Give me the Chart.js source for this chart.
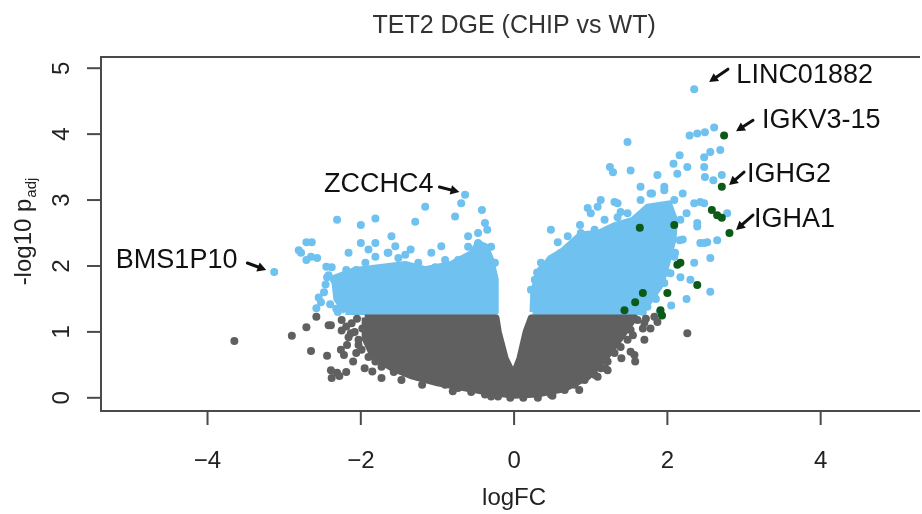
<!DOCTYPE html>
<html>
<head>
<meta charset="utf-8">
<script src="https://cdn.jsdelivr.net/npm/chart.js@4.4.0/dist/chart.umd.min.js"></script>
<style>
  html, body { margin: 0; padding: 0; background: #fff; overflow: hidden; }
</style>
</head>
<body>
<canvas id="volcano" width="922" height="514"></canvas>
<script>
// Ejes
const xTicks = [-4, -2, 0, 2, 4];
const yTicks = [0, 1, 2, 3, 4, 5];

// Zonas densas (contorno de la nube de puntos)
const greyCore = [[-1.95,1.22],[-0.23,1.22],[-0.2,1.0],[-0.11,0.6],[-0.01,0.36],[0.07,0.6],[0.15,1.0],[0.22,1.22],
  [1.58,1.22],[1.4,0.92],[1.18,0.58],[0.96,0.31],[0.65,0.13],[0.3,0.05],[0,0.03],[-0.4,0.09],[-1.0,0.22],
  [-1.35,0.33],[-1.6,0.45],[-1.84,0.62],[-1.95,0.9],[-1.95,1.22]];
const blueLeftCore = [[-2.2,1.3],[-2.32,1.5],[-2.35,1.82],[-2.07,1.94],[-1.77,1.98],[-1.42,2.03],[-1.16,1.95],
  [-0.82,2.03],[-0.55,2.2],[-0.47,2.35],[-0.37,2.3],[-0.3,2.1],[-0.24,1.8],[-0.24,1.3],[-2.2,1.3]];
const blueRightCore = [[0.24,1.3],[0.25,1.6],[0.3,1.85],[0.47,2.12],[0.62,2.22],[0.87,2.48],[1.1,2.5],[1.31,2.62],
  [1.55,2.7],[1.74,2.9],[2.02,2.95],[2.1,2.7],[2.08,2.4],[2.0,2.05],[1.92,1.72],[1.74,1.42],[1.62,1.3],[0.24,1.3]];

// Puntos sueltos
const greyPoints = [[-3.65,0.86],[-2.9,0.94],[-2.71,1.07],[-2.58,1.23],[-2.65,0.71],[-2.42,1.1],[-2.44,0.64],
  [-2.39,1.1],[-2.26,0.73],[-2.22,0.65],[-2.06,0.68],[-2.16,0.92],[-2.12,1.13],[-2.39,0.42],[-2.31,0.38],
  [-2.19,0.39],[-2.38,0.3],[-2.28,0.33],[-1.73,0.3],[-1.57,0.39],[-1.47,0.27],[-2.05,1.2],[-2.08,1.0],
  [-2.03,0.8],[-2.1,0.55],[-1.95,0.45],[-1.85,0.4],[-2.18,0.8],[-1.98,1.05],[-2.25,1.02],
  [2.26,0.98],[1.7,0.88],[1.52,0.7],[1.57,0.65],[1.58,0.55],[1.83,1.23],[1.87,1.15],[1.7,1.14],[1.78,1.05],
  [1.22,0.42],[1.09,0.32],[1.19,0.45],[1.4,0.6],[1.55,0.95],[1.72,1.2],[1.68,1.05],[0.85,0.12],[0.5,0.03],
  [-0.3,0.02],[-0.8,0.1],[-1.2,0.2]];
const greyEdgePoints = [[-2.25,1.18],[-2.19,1.08],[-2.13,0.98],[-2.03,0.88],[-1.99,0.73],[-1.9,0.62],
  [-1.81,0.55],[-1.73,0.47],[-1.77,0.68],[-1.42,0.38],[-1.25,0.32],[-1.08,0.27],[-0.9,0.2],[-0.73,0.15],
  [-0.56,0.09],[-0.38,0.05],[-0.21,0.02],[-0.05,0.0],[0.12,0.0],
  [1.61,1.18],[1.52,1.03],[1.48,0.88],[1.39,0.77],[1.31,0.68],[1.22,0.55],[1.13,0.45],[1.05,0.35],
  [0.92,0.27],[0.79,0.2],[0.66,0.12],[0.48,0.05],[0.31,0.0]];
const bluePoints = [[-3.13,1.91],[-2.31,2.7],[-2.0,2.62],[-1.81,2.72],[-1.29,2.67],[-2.71,2.36],[-2.64,2.36],
  [-2.78,2.2],[-2.57,2.12],[-2.71,2.09],[-2.16,2.2],[-1.81,2.35],[-1.55,2.3],[-1.08,2.2],[-2.38,1.98],
  [-2.44,1.83],[-2.58,1.36],[-2.48,1.6],[-2.42,1.86],[-2.32,1.35],[-2.2,1.45],[-0.64,3.08],[-0.69,2.95],
  [-1.16,2.9],[-0.77,2.75],[-0.38,2.65],[-0.47,2.5],[-1.9,2.25],[-1.65,2.2],[-1.35,2.25],[-0.95,2.3],
  [-0.6,2.45],[-0.42,2.85],[-0.35,2.55],[-1.6,2.45],[-2.0,2.35],[-2.52,1.45],[-2.46,1.72],
  [2.35,4.68],[2.29,3.98],[2.39,4.01],[2.49,4.03],[2.61,4.1],[1.48,3.88],[2.16,3.68],[2.48,3.65],[2.56,3.73],
  [2.69,3.76],[2.48,3.5],[2.49,3.35],[1.25,3.5],[1.29,3.42],[1.52,3.45],[1.87,3.38],[2.13,3.4],[2.26,3.5],
  [2.71,3.38],[1.96,3.2],[2.48,2.95],[1.09,2.9],[1.35,2.95],[2.78,2.8],[2.39,2.6],[2.48,2.35],[0.48,2.55],
  [0.96,2.88],[1.0,2.8],[0.57,2.36],[0.86,2.62],[1.13,3.0],[1.31,2.97],[1.39,2.82],[2.35,2.95],[2.39,2.65],
  [2.43,2.35],[2.52,2.36],[2.65,2.39],[2.56,2.12],[2.3,1.79],[2.56,1.61],[2.17,1.83],[2.35,2.05],[2.43,2.97],
  [2.08,3.55],[1.8,3.1],[1.65,3.2],[2.2,3.1],[2.6,3.3],[2.25,2.8],[2.2,2.4],[2.1,2.2],[2.0,1.9],[1.85,1.5],
  [2.25,1.5],[2.05,1.4],[1.9,1.3],[0.35,2.05],[0.3,1.9],[0.7,2.45]];
const blueEdgePoints = [[-2.81,2.24],[-2.65,2.14],[-2.45,1.99],[-2.35,1.79],[-2.31,1.64],[-2.55,1.52],
  [-2.22,1.56],[-2.19,1.94],[-2.06,1.94],[-1.94,2.05],[-1.81,2.14],[-1.64,2.2],[-1.51,2.12],[-1.42,2.17],
  [-1.25,2.05],[-1.03,1.98],[-0.9,2.09],[-0.73,2.09],[-0.6,2.29],[-0.47,2.35],[-0.51,2.17],[-0.3,2.29],
  [-0.25,2.05],[-2.3,1.3],[-2.4,1.42],
  [0.22,1.64],[0.27,1.79],[0.35,1.94],[0.48,2.09],[0.61,2.2],[0.74,2.29],[0.87,2.5],[1.05,2.55],[1.18,2.7],
  [1.35,2.74],[1.48,2.8],[1.65,3.0],[1.78,3.1],[1.96,3.15],[2.09,3.0],[2.17,2.7],[2.16,2.39],[2.09,2.14],
  [2.04,1.89],[1.96,1.74],[1.83,1.53],[1.74,1.38],[1.68,1.3]];
const greenPoints = [[2.74,3.98],[2.71,3.2],[2.58,2.85],[2.65,2.77],[2.71,2.73],[2.81,2.5],[1.64,2.58],
  [2.09,2.62],[2.13,2.02],[2.17,2.05],[2.39,1.71],[1.68,1.59],[1.58,1.45],[2.0,1.59],[1.44,1.33],[1.91,1.33],
  [1.93,1.25]];

// Etiquetas de genes: texto, posición y flecha
const geneLabels = [
  { text: 'LINC01882', x: 2.9, y: 4.77, align: 'left', from: [2.79, 4.985], to: [2.545, 4.79] },
  { text: 'IGKV3-15', x: 3.234, y: 4.09, align: 'left', from: [3.117, 4.21], to: [2.896, 4.045] },
  { text: 'IGHG2', x: 3.039, y: 3.27, align: 'left', from: [3.0, 3.424], to: [2.805, 3.227] },
  { text: 'IGHA1', x: 3.13, y: 2.59, align: 'left', from: [3.117, 2.773], to: [2.896, 2.545] },
  { text: 'ZCCHC4', x: -1.052, y: 3.12, align: 'right', from: [-0.974, 3.197], to: [-0.714, 3.121] },
  { text: 'BMS1P10', x: -3.61, y: 1.97, align: 'right', from: [-3.48, 2.045], to: [-3.234, 1.939] }
];

const GRIS = '#606060';
const AZUL = '#6fc1ef';
const VERDE = '#0b5a17';
const FUENTE = '"Liberation Sans", Arial, sans-serif';

const aXY = arr => arr.map(p => ({ x: p[0], y: p[1] }));

function zona(datos, color, orden) {
  return {
    type: 'line', data: aXY(datos), fill: 'shape', backgroundColor: color, borderColor: color,
    borderWidth: 6, borderJoinStyle: 'round', pointRadius: 0, tension: 0, order: orden
  };
}
function puntos(datos, color, orden) {
  return {
    data: aXY(datos), backgroundColor: color, borderWidth: 0, pointRadius: 4, pointHoverRadius: 4, order: orden
  };
}

// Marco, marcas, textos y flechas al estilo R
const marcoR = {
  id: 'marcoR',
  afterDraw(chart) {
    const { ctx, chartArea: a, scales: { x, y } } = chart;
    ctx.save();
    ctx.strokeStyle = '#4a4a4a';
    ctx.lineWidth = 2;
    ctx.beginPath();
    ctx.moveTo(a.right + 2, a.top);
    ctx.lineTo(a.left, a.top);
    ctx.lineTo(a.left, a.bottom);
    ctx.lineTo(a.right + 2, a.bottom);
    ctx.stroke();

    ctx.fillStyle = '#222';
    ctx.font = '24px ' + FUENTE;
    ctx.textAlign = 'center';
    ctx.textBaseline = 'alphabetic';
    xTicks.forEach(t => {
      const px = x.getPixelForValue(t);
      ctx.beginPath();
      ctx.moveTo(px, a.bottom);
      ctx.lineTo(px, a.bottom + 14);
      ctx.stroke();
      ctx.fillText(t < 0 ? '\u2212' + Math.abs(t) : String(t), px, 468);
    });
    yTicks.forEach(t => {
      const py = y.getPixelForValue(t);
      ctx.beginPath();
      ctx.moveTo(a.left, py);
      ctx.lineTo(a.left - 14, py);
      ctx.stroke();
      ctx.save();
      ctx.translate(69, py);
      ctx.rotate(-Math.PI / 2);
      ctx.fillText(String(t), 0, 0);
      ctx.restore();
    });

    // Títulos
    const cx = x.getPixelForValue(0);
    ctx.fillStyle = '#333';
    ctx.font = '25px ' + FUENTE;
    ctx.fillText('TET2 DGE (CHIP vs WT)', cx, 33);
    ctx.fillStyle = '#222';
    ctx.font = '24px ' + FUENTE;
    ctx.fillText('logFC', cx, 505);

    ctx.save();
    ctx.translate(31, 232);
    ctx.rotate(-Math.PI / 2);
    ctx.textAlign = 'left';
    const principal = '-log10 p';
    ctx.font = '24px ' + FUENTE;
    const w1 = ctx.measureText(principal).width;
    ctx.font = '15px ' + FUENTE;
    const w2 = ctx.measureText('adj').width;
    const x0 = -(w1 + w2) / 2;
    ctx.font = '24px ' + FUENTE;
    ctx.fillText(principal, x0, 0);
    ctx.font = '15px ' + FUENTE;
    ctx.fillText('adj', x0 + w1 + 1, 5);
    ctx.restore();

    // Etiquetas de genes con flecha
    ctx.font = '27px ' + FUENTE;
    ctx.fillStyle = '#111';
    ctx.strokeStyle = '#111';
    geneLabels.forEach(l => {
      ctx.textAlign = l.align;
      ctx.fillText(l.text, x.getPixelForValue(l.x), y.getPixelForValue(l.y));
      const x1 = x.getPixelForValue(l.from[0]), y1 = y.getPixelForValue(l.from[1]);
      const x2 = x.getPixelForValue(l.to[0]), y2 = y.getPixelForValue(l.to[1]);
      const ang = Math.atan2(y2 - y1, x2 - x1);
      ctx.lineWidth = 3;
      ctx.lineCap = 'round';
      ctx.beginPath();
      ctx.moveTo(x1, y1);
      ctx.lineTo(x2 - 5 * Math.cos(ang), y2 - 5 * Math.sin(ang));
      ctx.stroke();
      ctx.beginPath();
      ctx.moveTo(x2, y2);
      ctx.lineTo(x2 - 10 * Math.cos(ang - 0.5), y2 - 10 * Math.sin(ang - 0.5));
      ctx.lineTo(x2 - 10 * Math.cos(ang + 0.5), y2 - 10 * Math.sin(ang + 0.5));
      ctx.closePath();
      ctx.fill();
    });
    ctx.restore();
  }
};

const ctx = document.getElementById('volcano').getContext('2d');
new Chart(ctx, {
  type: 'scatter',
  data: {
    datasets: [
      zona(blueLeftCore, AZUL, 7),
      zona(blueRightCore, AZUL, 7),
      puntos(blueEdgePoints, AZUL, 6),
      puntos(bluePoints, AZUL, 5),
      zona(greyCore, GRIS, 4),
      puntos(greyEdgePoints, GRIS, 3),
      puntos(greyPoints, GRIS, 2),
      puntos(greenPoints, VERDE, 1)
    ]
  },
  options: {
    responsive: false,
    animation: false,
    events: [],
    layout: { padding: { left: 101, top: 57, right: 0, bottom: 103 } },
    plugins: { legend: { display: false }, tooltip: { enabled: false }, title: { display: false } },
    scales: {
      x: {
        type: 'linear', min: -5.39, max: 5.27,
        ticks: { display: false }, grid: { display: false, drawTicks: false }, border: { display: false }
      },
      y: {
        type: 'linear', min: -0.2, max: 5.17,
        ticks: { display: false }, grid: { display: false, drawTicks: false }, border: { display: false }
      }
    }
  },
  plugins: [marcoR]
});
</script>
</body>
</html>
